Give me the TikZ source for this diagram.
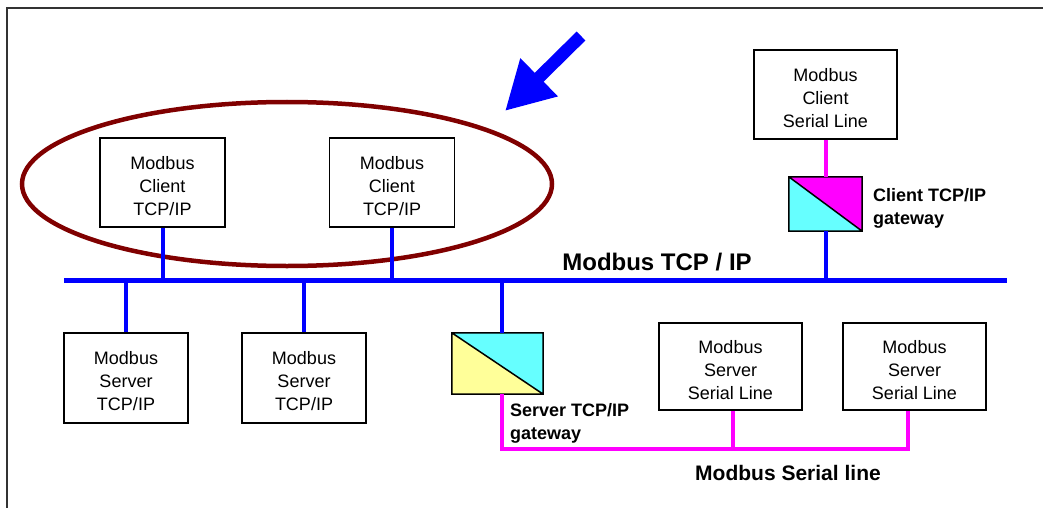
\documentclass[tikz,border=0pt]{standalone}
\usepackage{fontspec}
\setmainfont{Liberation Sans}
\usepackage{tikz}
\usetikzlibrary{arrows.meta}
\definecolor{busblue}{RGB}{0,0,255}
\definecolor{serialpink}{RGB}{255,0,255}
\definecolor{gwcyan}{RGB}{102,255,255}
\definecolor{gwyellow}{RGB}{255,255,153}
\definecolor{ringred}{RGB}{128,0,0}

\begin{document}
\begin{tikzpicture}[x=1pt, y=-1pt,
	dev/.style={draw, line width=1.5pt, align=center, inner sep=0pt, font=\fontsize{18}{23}\selectfont},
	gw/.style={minimum width=#1, inner sep=0pt},
	lbl/.style={font=\bfseries\fontsize{18}{23}\selectfont, align=left, anchor=west, inner sep=0pt},
	tcp/.style={busblue, line width=4pt},
	ser/.style={serialpink, line width=4pt}]
\useasboundingbox (0,0) rectangle (1043,508);
\draw[line width=2pt, black!80] (1043,8) -- (7,8) -- (7,508);

% highlighted clients
\draw[ringred, line width=4.5pt] (287,184) ellipse [x radius=265, y radius=82];
\coordinate (arrS) at (581,36);
\coordinate (arrE) at (505,111);
\draw[busblue, line width=12.5pt, -{Triangle[length=48pt, width=50pt]}] (arrS) -- (arrE);

% devices
\node[dev, minimum width=125pt, minimum height=89pt] (ct1) at (162.5,182.5) {\\[-3pt]Modbus\\Client\\TCP/IP};
\node[dev, minimum width=125pt, minimum height=89pt] (ct2) at (392,182.5) {\\[-3pt]Modbus\\Client\\TCP/IP};
\node[dev, minimum width=124pt, minimum height=90pt] (st1) at (126,378) {\\[-3pt]Modbus\\Server\\TCP/IP};
\node[dev, minimum width=124pt, minimum height=90pt] (st2) at (304,378) {\\[-3pt]Modbus\\Server\\TCP/IP};
\node[dev, minimum width=143pt, minimum height=89pt] (cs) at (825.5,94.5) {\\[-3pt]Modbus\\Client\\Serial Line};
\node[dev, minimum width=143pt, minimum height=87pt] (ss1) at (730.5,366.5) {\\[-3pt]Modbus\\Server\\Serial Line};
\node[dev, minimum width=143pt, minimum height=87pt] (ss2) at (914.5,366.5) {\\[-3pt]Modbus\\Server\\Serial Line};

% gateways
\node[gw=73pt, minimum height=54pt] (gwc) at (825.5,204) {};
\fill[serialpink] (gwc.north west) -- (gwc.north east) -- (gwc.south east) -- cycle;
\fill[gwcyan] (gwc.north west) -- (gwc.south west) -- (gwc.south east) -- cycle;
\draw[line width=1.5pt] (gwc.north west) rectangle (gwc.south east) (gwc.north west) -- (gwc.south east);
\node[gw=91pt, minimum height=61pt] (gws) at (497.5,363.5) {};
\fill[gwcyan] (gws.north west) -- (gws.north east) -- (gws.south east) -- cycle;
\fill[gwyellow] (gws.north west) -- (gws.south west) -- (gws.south east) -- cycle;
\draw[line width=1.5pt] (gws.north west) rectangle (gws.south east) (gws.north west) -- (gws.south east);

% TCP/IP network
\coordinate (busW) at (64,280);
\coordinate (busE) at (1007,280);
\draw[tcp, line width=5pt] (busW) -- (busE);
\coordinate (gwsT) at ([xshift=4.5pt]gws.north);
\path[tcp]
(ct1.south) edge (ct1.south |- busW)
(ct2.south) edge (ct2.south |- busW)
(st1.north) edge (st1.north |- busW)
(st2.north) edge (st2.north |- busW)
(gwsT) edge (gwsT |- busW)
(gwc.south) edge (gwc.south |- busW);

% serial lines
\coordinate (sl) at (0,449);
\coordinate (gwsB) at ([xshift=4.5pt]gws.south);
\coordinate (ss1B) at ([xshift=2.5pt]ss1.south);
\coordinate (ss2B) at ([xshift=-6.5pt]ss2.south);
\draw[ser] (gwsB) |- (ss2B |- sl) -- (ss2B);
\draw[ser] (ss1B) -- (ss1B |- sl);
\draw[ser] (cs.south) -- (gwc.north);

% labels
\node[font=\bfseries\fontsize{24}{28}\selectfont, inner sep=0pt] (tcplbl) at (657,262) {Modbus TCP / IP};
\node[font=\bfseries\fontsize{21}{25}\selectfont, inner sep=0pt] (serlbl) at (788,473) {Modbus Serial line};
\node[lbl] (gwclbl) at (873,208.5) {Client TCP/IP\\gateway};
\node[lbl] (gwslbl) at (510,423.5) {Server TCP/IP\\gateway};
\end{tikzpicture}
\end{document}
